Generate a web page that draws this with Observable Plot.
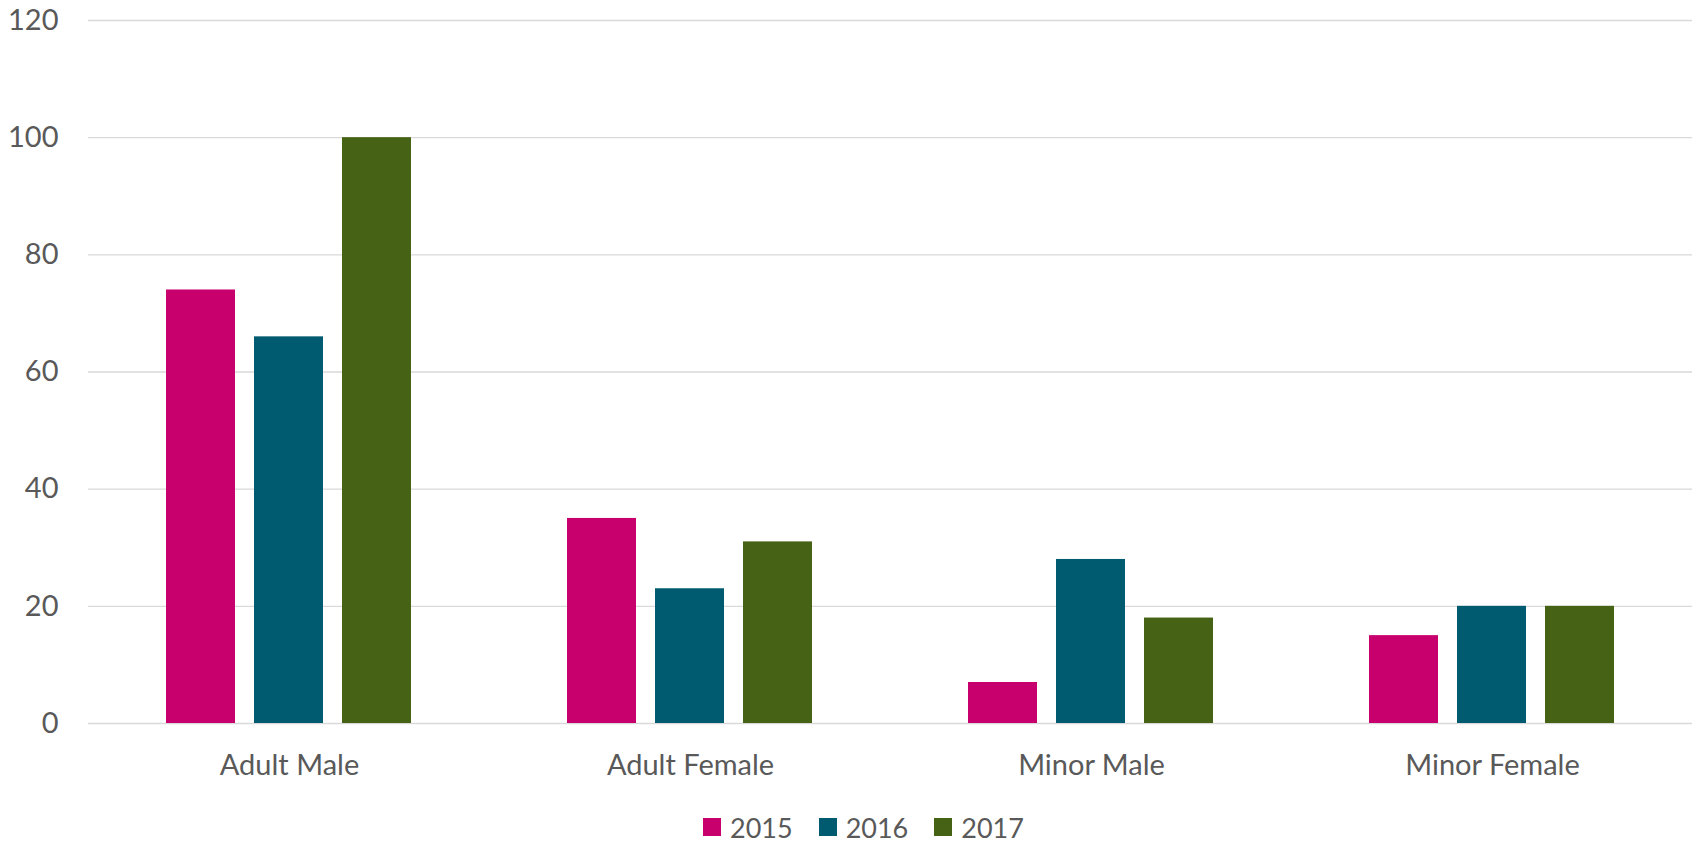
<!DOCTYPE html>
<html>
<head>
<meta charset="utf-8">
<script src="https://cdn.jsdelivr.net/npm/d3@7"></script>
<script src="https://cdn.jsdelivr.net/npm/@observablehq/plot@0.6"></script>
<style>
  body { margin: 0; background: #fff; font-family: Lato, sans-serif; }
  #wrap { position: relative; width: 1696px; height: 841px; }
  #back, #front { position: absolute; left: 0; top: 0; }
  #legend { position: absolute; left: 703px; top: 810px; height: 34px; display: flex; align-items: center; font-size: 27px; color: #595959; }
  #legend .item { display: flex; align-items: center; margin-right: 26px; }
  #legend .sw { width: 18px; height: 18px; margin-right: 9px; }
</style>
</head>
<body>
<div id="wrap"><div id="back"></div><div id="front"></div><div id="legend"></div></div>
<script>
const categories = ["Adult Male", "Adult Female", "Minor Male", "Minor Female"];
const years = ["2015", "2016", "2017"];
const values2015 = [74, 35, 7, 15];
const values2016 = [66, 23, 28, 20];
const values2017 = [100, 31, 18, 20];
const colors = ["#C8006E", "#005A70", "#456215"];
const yTicks = [0, 20, 40, 60, 80, 100, 120];

const series = [values2015, values2016, values2017];
const data = [];
categories.forEach((c, i) => years.forEach((y, j) => data.push({category: c, year: y, value: series[j][i]})));

const common = {
  width: 1696,
  height: 790,
  marginLeft: 88,
  marginRight: 4,
  marginTop: 20,
  marginBottom: 67,
  style: {fontFamily: "Lato, sans-serif", fontSize: "29px", color: "#595959", background: "transparent"}
};

// Background: gridlines and y axis
const back = Plot.plot({
  ...common,
  style: {...common.style, background: "#fff"},
  x: {domain: [0, 1], axis: null},
  y: {domain: [0, 120], ticks: yTicks, tickSize: 0, tickPadding: 30, label: null},
  marks: [
    Plot.ruleY(yTicks, {stroke: "#d9d9d9", strokeWidth: 1.3})
  ]
});
document.getElementById("back").appendChild(back);

// Foreground: grouped bars with category axis
const front = Plot.plot({
  ...common,
  fx: {domain: categories, paddingInner: 0.382, paddingOuter: 0.191, label: null, axis: "bottom", tickSize: 0, tickPadding: 31},
  x: {domain: years, paddingInner: 0.213, paddingOuter: 0, axis: null},
  y: {domain: [0, 120], axis: null},
  color: {domain: years, range: colors},
  marks: [
    Plot.barY(data, {fx: "category", x: "year", y: "value", fill: "year"})
  ]
});
document.getElementById("front").appendChild(front);

const legend = document.getElementById("legend");
years.forEach((y, i) => {
  const it = document.createElement("div");
  it.className = "item";
  it.innerHTML = `<div class="sw" style="background:${colors[i]}"></div><span>${y}</span>`;
  legend.appendChild(it);
});
</script>
</body>
</html>
